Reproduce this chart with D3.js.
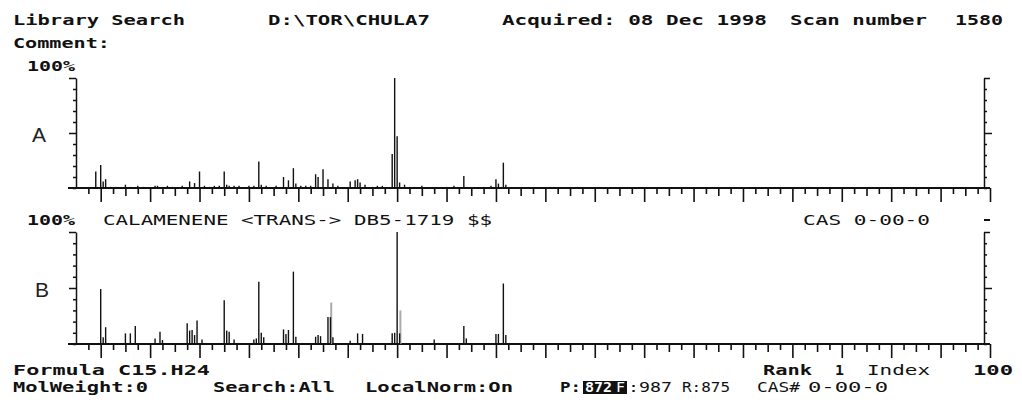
<!DOCTYPE html>
<html><head><meta charset="utf-8">
<script src="https://cdn.jsdelivr.net/npm/d3@7"></script>
<style>html,body{margin:0;padding:0;background:#fff;} svg{display:block;}</style>
</head><body>
<svg id="c" width="1022" height="411"></svg>
<script>
// ---- data (m/z and relative intensity %) ----
const mzA = [38,40,41,42,44,46,50,52,55,57,62,63,65,67,69,71,73,76,78,80,82,84,86,88,90,91,92,94,96,98,100,102,104,105,107,109,111,114,116,118,119,121,123,125,127,128,130,132,134,136,138,141,143,144,145,147,150,152,154,158,159,160,161,163,165,167,170,172,174,180,183,187,190,195,198,200,201,203,204,233,251,275,287,327,342,355,368];
const intA = [15,21,6,8,1,1,3,1,2,1,2,2,1,2,1,1,2,6,4.5,15,2,1,2,2,15,3,2,2,2,1,2,2,24,3,2,1,2,10,7,18,4,2,2,2,12.5,10,17,8,4,2,1,6,7,8,5,3,1,2,2,31,100,47,5,3,1,1,2,1,1,1,2,11,1,1,2,8,4,23,3,1,1,1,1,1,1,1,1];
const mzB = [40,41,42,50,52,54,62,64,65,75,76,77,78,79,81,90,91,92,94,102,103,104,105,106,114,115,116,118,119,127,128,129,132,133,134,141,144,146,158,159,160,161,175,187,188,200,201,203,204];
const intB = [49,6,15,9.5,9.5,16,5,11,3.5,18.5,12,12.5,8,21,4,39,12,11,4,4,5,55.6,10,6,13,9,12.5,64.6,6.5,6.5,8,7,24,24,6,3,9.5,9,9.5,10,100,9.5,4,16,5,9,9,54,8];
const mzBFaint = [133,161];
const intBFaint = [37,30];
const xTicks = d3.range(35, 401, 5);
const yTicks = d3.range(0, 101, 10);
const mzDomain = [30, 400];

const svg = d3.select("#c");
svg.append("rect").attr("width",1022).attr("height",411).attr("fill","#fff");

const x = d3.scaleLinear().domain(mzDomain).range([76, 990]);
const rightAxisX = 984;

function panel(y, mz, vals, faintMz, faintVals) {
  const g = svg.append("g");
  const la = g.append("g").attr("transform","translate(76,0)")
    .call(d3.axisLeft(y).tickValues(yTicks).tickSize(3).tickSizeOuter(0).tickFormat(""));
  la.selectAll(".tick line").attr("x2", d => (d===50||d===100) ? -7 : -3);
  la.selectAll("line,path").attr("stroke","#111").attr("stroke-width",1.5);
  const ra = g.append("g").attr("transform",`translate(${rightAxisX},0)`)
    .call(d3.axisRight(y).tickValues(yTicks).tickSize(3).tickSizeOuter(0).tickFormat(""));
  ra.selectAll(".tick line").attr("x2", d => d===50 ? 8 : (d===100 ? 6 : 3));
  ra.selectAll("line,path").attr("stroke","#111").attr("stroke-width",1.5);
  const xa = g.append("g").attr("transform",`translate(0,${y(0)})`)
    .call(d3.axisBottom(x).tickValues(xTicks).tickSize(7).tickSizeOuter(0).tickFormat(""));
  xa.select(".domain").remove();
  xa.selectAll(".tick line").attr("y2", d => d%20===0 ? 14 : (d%10===0 ? 8 : 6))
    .attr("stroke","#111").attr("stroke-width",1.6);
  g.append("line").attr("x1", x(mzDomain[0]) - 8).attr("x2", x(mzDomain[1]))
    .attr("y1", y(0)).attr("y2", y(0)).attr("stroke","#111").attr("stroke-width",2);
  if (faintMz) {
    g.selectAll("line.faint").data(faintMz).enter().append("line").attr("class","faint")
      .attr("x1", d => x(d)+0.8).attr("x2", d => x(d)+0.8)
      .attr("y1", y(0)).attr("y2", (d,i) => y(faintVals[i]))
      .attr("stroke","#aaa").attr("stroke-width",2);
  }
  g.selectAll("line.stick").data(mz).enter().append("line").attr("class","stick")
    .attr("x1", d => x(d)).attr("x2", d => x(d))
    .attr("y1", y(0)).attr("y2", (d,i) => y(vals[i]))
    .attr("stroke","#111").attr("stroke-width",1.4);
}

const yA = d3.scaleLinear().domain([0,100]).range([188, 78]);
const yB = d3.scaleLinear().domain([0,100]).range([344, 232]);
panel(yA, mzA, intA);
panel(yB, mzB, intB, mzBFaint, intBFaint);

function txt(s, x0, yb, w, bold, fill) {
  svg.append("text").attr("x", x0).attr("y", yb)
    .attr("font-family","'DejaVu Sans Mono', monospace")
    .attr("font-size", 14).attr("font-weight", bold ? "bold" : "normal")
    .attr("fill", fill || "#111")
    .attr("textLength", w).attr("lengthAdjust","spacingAndGlyphs")
    .text(s);
}
txt("Library Search", 13, 25, 172, true);
txt("D:\\TOR\\CHULA7", 268, 25, 162, true);
txt("Acquired: 08 Dec 1998", 502, 25, 265, true);
txt("Scan number", 790, 25, 137, true);
txt("1580", 955, 25, 48, true);
txt("Comment:", 13, 48, 97, true);
txt("100%", 27, 71, 48, true);
txt("100%", 27, 225, 48, true);
txt("CALAMENENE <TRANS-> DB5-1719 $$", 103, 225, 389, false);
txt("CAS 0-00-0", 803, 225, 127, false);
svg.append("line").attr("x1",984).attr("x2",990).attr("y1",220).attr("y2",220).attr("stroke","#111").attr("stroke-width",2);

txt("Formula  C15.H24", 13, 375, 197, true);
txt("Rank", 763, 375, 49, true);
txt("1", 835, 375, 9, true);
txt("Index", 867, 375, 63, false);
txt("100", 973, 375, 40, true);
txt("MolWeight:0", 13, 392, 135, true);
txt("Search:All", 213, 392, 122, true);
txt("LocalNorm:On", 365, 392, 148, true);
txt("P:", 560, 392, 21, true);
svg.append("rect").attr("x",583).attr("y",381).attr("width",44).attr("height",13).attr("fill","#111");
txt("872", 585, 392, 27, true, "#fff");
txt("F", 616, 392, 9, false, "#fff");
txt(":987", 628, 392, 44, false);
txt("R:875", 682, 392, 48, false);
txt("CAS#", 757, 392, 43, false);
txt("0-00-0", 808, 392, 80, false);

svg.append("text").attr("x",32).attr("y",142).attr("font-family","'Liberation Sans', Arial, sans-serif")
  .attr("font-size",21).attr("fill","#222").text("A");
svg.append("text").attr("x",35).attr("y",297).attr("font-family","'Liberation Sans', Arial, sans-serif")
  .attr("font-size",21).attr("fill","#222").text("B");
</script>
</body></html>
